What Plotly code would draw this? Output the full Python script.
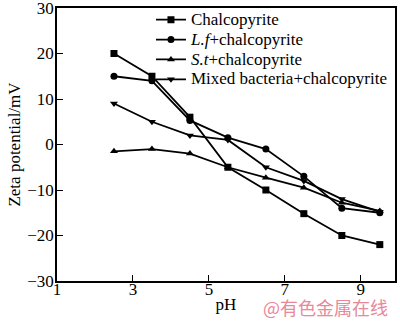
import plotly.graph_objects as go

ph = [2.5, 3.5, 4.5, 5.5, 6.5, 7.5, 8.5, 9.5]
chalcopyrite = [20, 15, 6, -5, -10, -15.2, -20, -22]
lf_chalcopyrite = [15, 14, 5.3, 1.5, -1, -7, -14, -15]
st_chalcopyrite = [-1.5, -1, -2, -5, -7.3, -9.5, -12.8, -14.6]
mixed_chalcopyrite = [9, 5, 2, 1, -5, -8, -12, -14.8]

names = ["Chalcopyrite", "<i>L.f</i>+chalcopyrite", "<i>S.t</i>+chalcopyrite",
         "Mixed bacteria+chalcopyrite"]
symbols = ["square", "circle", "triangle-up", "triangle-down"]
series = [chalcopyrite, lf_chalcopyrite, st_chalcopyrite, mixed_chalcopyrite]

FONT = "Liberation Serif, Times New Roman, serif"

fig = go.Figure()
for n, s, y in zip(names, symbols, series):
    fig.add_trace(go.Scatter(
        x=ph, y=y, name='<span style="font-size:17px">' + n + '</span>',
        mode="lines+markers",
        line=dict(color="black", width=1.8),
        marker=dict(symbol=s, size=7, color="black"),
    ))

fig.update_layout(
    width=400, height=321,
    margin=dict(l=57, r=5, t=5, b=40),
    paper_bgcolor="white", plot_bgcolor="white",
    font=dict(family=FONT, size=17, color="black"),
    showlegend=True,
    legend=dict(x=0.278, y=1.012, xanchor="left", yanchor="top",
                bgcolor="rgba(0,0,0,0)", borderwidth=0,
                font=dict(family=FONT, size=13), itemwidth=30,
                tracegroupgap=0),
    xaxis=dict(range=[1, 9.9], tickvals=[1, 3, 5, 7, 9], ticks="inside",
               ticklen=6, tickcolor="black", showline=True, linecolor="black",
               linewidth=1.5, mirror=True, showgrid=False, zeroline=False,
               automargin=False, ticklabeloverflow="allow", ticklabelstandoff=-8,
               tickfont=dict(family=FONT, size=17),
               title=dict(text="pH", font=dict(family=FONT, size=17), standoff=0)),
    yaxis=dict(range=[-30, 30], tickvals=[-30, -20, -10, 0, 10, 20, 30],
               ticktext=["\u221230", "\u221220", "\u221210", "0", "10", "20", "30"],
               ticks="inside", ticklen=6, tickcolor="black", showline=True,
               linecolor="black", linewidth=1.5, mirror=True, showgrid=False,
               zeroline=False, automargin=False, ticklabeloverflow="allow",
               ticklabelstandoff=-2, tickfont=dict(family=FONT, size=17),
               title=dict(text="Zeta potential/mV", font=dict(family=FONT, size=17),
                          standoff=2)),
)

fig.add_annotation(text="@有色金属在线", xref="paper", yref="paper",
                   x=0.985, y=-0.097, xanchor="right", yanchor="middle",
                   showarrow=False,
                   font=dict(family="Noto Sans CJK SC", size=18, color="#e8889a"))

fig.write_html("out.html")
